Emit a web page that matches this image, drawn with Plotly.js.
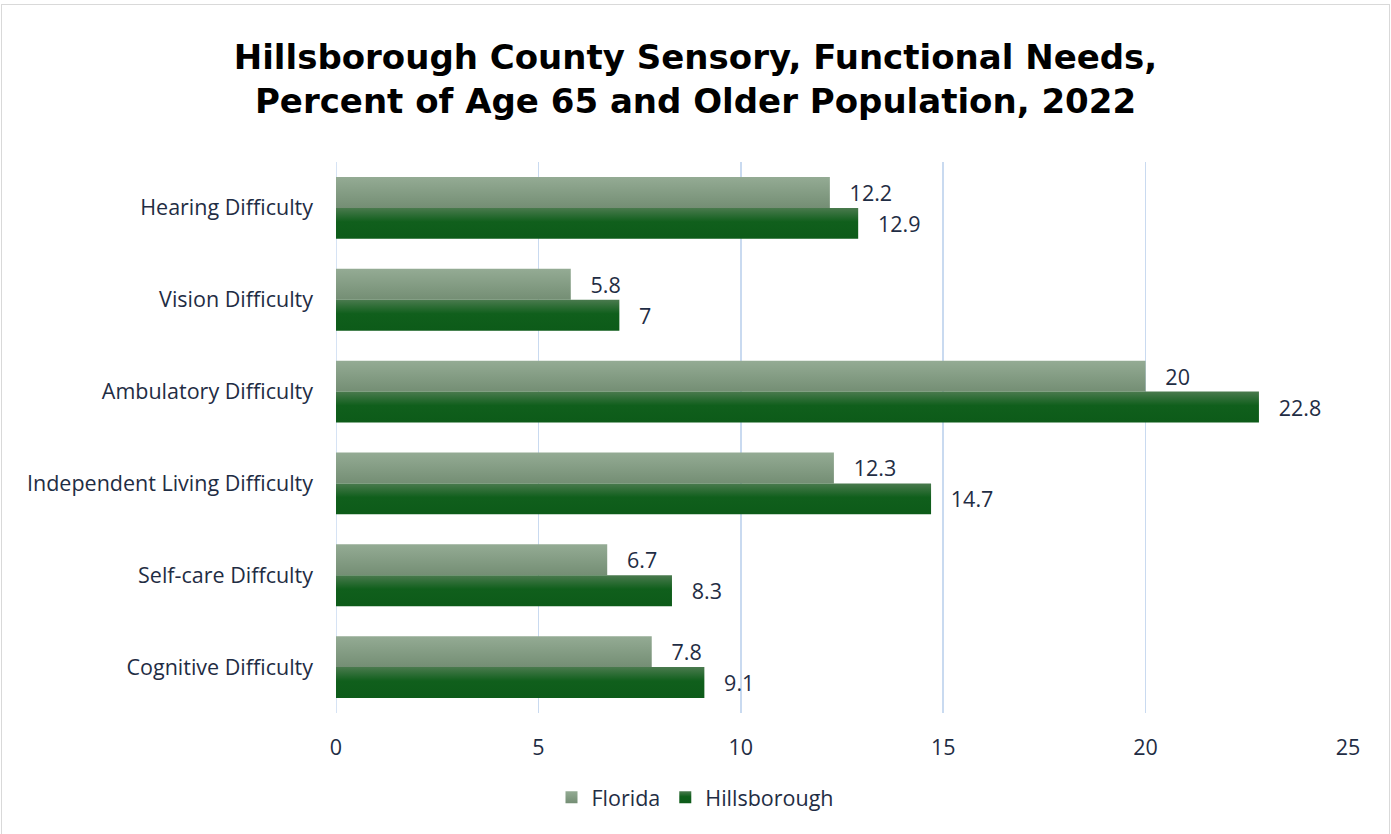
<!DOCTYPE html>
<html>
<head>
<meta charset="utf-8">
<script src="https://cdn.plot.ly/plotly-3.0.1.min.js"></script>
<style>
  html, body { margin: 0; padding: 0; background: #ffffff; }
  #chart { position: absolute; left: 0; top: 0; width: 1391px; height: 834px; }
  #frame { position: absolute; left: 1px; top: 4px; width: 1387px; height: 840px;
           border: 1.5px solid #d9d9d9; pointer-events: none; }
</style>
</head>
<body>
<div id="chart"></div>
<div id="frame"></div>
<script>
// Categories, top to bottom
const categories = [
  "Hearing Difficulty",
  "Vision Difficulty",
  "Ambulatory Difficulty",
  "Independent Living Difficulty",
  "Self-care Diffculty",
  "Cognitive Difficulty"
];

// Percent of population aged 65+
const floridaValues = [12.2, 5.8, 20, 12.3, 6.7, 7.8];
const hillsboroughValues = [12.9, 7, 22.8, 14.7, 8.3, 9.1];

const seriesNames = ["Florida", "Hillsborough"];
const xTickValues = [0, 5, 10, 15, 20, 25];

const textColor = "#1f2d44";
const labelFont = { family: "Open Sans, sans-serif", size: 21.5, color: textColor };

function barTrace(name, values, color) {
  return {
    type: "bar",
    orientation: "h",
    name: name,
    y: categories,
    x: values,
    marker: { color: color, line: { width: 0 } },
    texttemplate: "\u00a0\u00a0\u00a0%{x}",
    textposition: "outside",
    cliponaxis: false,
    textfont: labelFont,
    hoverinfo: "x+name"
  };
}

const data = [
  barTrace(seriesNames[0], floridaValues, "#86a086"),
  barTrace(seriesNames[1], hillsboroughValues, "#0e5c1a")
];

const layout = {
  width: 1391,
  height: 834,
  paper_bgcolor: "rgba(0,0,0,0)",
  plot_bgcolor: "rgba(0,0,0,0)",
  margin: { l: 336, r: 43, t: 162, b: 121 },
  barmode: "group",
  bargap: 0.326,
  bargroupgap: 0,
  title: {
    text: "Hillsborough County Sensory, Functional Needs,<br>Percent of Age 65 and Older Population, 2022",
    font: { family: "DejaVu Sans, sans-serif", size: 34, color: "#000000", weight: 700 },
    x: 0.5,
    xanchor: "center",
    yref: "container",
    y: 0.917,
    yanchor: "middle"
  },
  xaxis: {
    range: [0, 25],
    tickvals: xTickValues,
    showgrid: true,
    gridcolor: "#c9daf0",
    gridwidth: 1.5,
    zeroline: false,
    showline: false,
    ticks: "",
    ticklabelstandoff: 19,
    tickfont: labelFont,
    fixedrange: true
  },
  yaxis: {
    autorange: "reversed",
    showgrid: false,
    zeroline: false,
    showline: false,
    ticks: "",
    ticklabelstandoff: 22,
    tickfont: labelFont,
    fixedrange: true
  },
  showlegend: true,
  legend: {
    orientation: "h",
    xref: "container",
    yref: "container",
    x: 0.5,
    xanchor: "center",
    y: 0.044,
    yanchor: "middle",
    font: labelFont,
    itemwidth: 30,
    traceorder: "normal"
  },
  shapes: [
    { type: "line", xref: "x", yref: "paper", x0: 0, x1: 0, y0: 0, y1: 1,
      line: { color: "#c9daf0", width: 1.5 }, layer: "below" }
  ]
};

// Vertical gradients for the bar fills
const gradients = [
  { id: "gradFlorida", stops: [["0%", "#94ab94"], ["100%", "#748e74"]] },
  { id: "gradHillsborough", stops: [["0%", "#4a7a4e"], ["45%", "#105f1c"], ["100%", "#0d5b19"]] }
];

function applyGradients(gd) {
  const svg = gd.querySelector("svg.main-svg");
  if (!svg) return;
  let defs = svg.querySelector("defs");
  if (!defs) {
    defs = document.createElementNS("http://www.w3.org/2000/svg", "defs");
    svg.insertBefore(defs, svg.firstChild);
  }
  gradients.forEach(g => {
    if (defs.querySelector("#" + g.id)) return;
    const lg = document.createElementNS("http://www.w3.org/2000/svg", "linearGradient");
    lg.setAttribute("id", g.id);
    lg.setAttribute("x1", "0"); lg.setAttribute("y1", "0");
    lg.setAttribute("x2", "0"); lg.setAttribute("y2", "1");
    g.stops.forEach(s => {
      const st = document.createElementNS("http://www.w3.org/2000/svg", "stop");
      st.setAttribute("offset", s[0]);
      st.setAttribute("stop-color", s[1]);
      lg.appendChild(st);
    });
    defs.appendChild(lg);
  });
  gd.querySelectorAll(".barlayer .trace.bars").forEach((tr, i) => {
    tr.querySelectorAll("path").forEach(p => { p.style.fill = "url(#" + gradients[i].id + ")"; });
  });
  gd.querySelectorAll(".legend .traces").forEach((tr, i) => {
    tr.querySelectorAll(".legendpoints path").forEach(p => { p.style.fill = "url(#" + gradients[i].id + ")"; });
  });
}

const gd = document.getElementById("chart");
Plotly.newPlot(gd, data, layout, { displayModeBar: false, staticPlot: true }).then(() => {
  applyGradients(gd);
  gd.on("plotly_afterplot", () => applyGradients(gd));
});
</script>
</body>
</html>
